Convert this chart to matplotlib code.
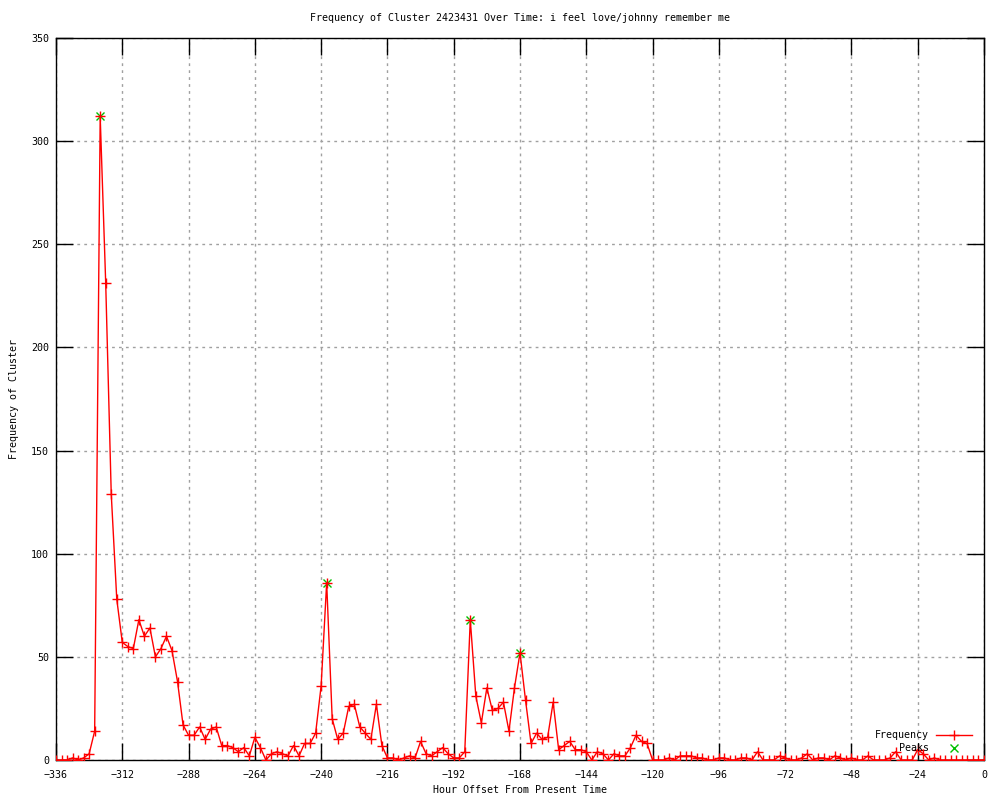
import matplotlib
matplotlib.use("Agg")
import matplotlib.pyplot as plt
import numpy as np

# Часы от -336 до 0 с шагом 2
hours = np.arange(-336, 1, 2)

# Частоты
frequency = [
    0, 0, 0, 1, 0, 1, 3, 14,            # -336 .. -322
    312, 231, 129, 78, 57, 55, 54, 68,  # -320 .. -306
    60, 64, 50, 54, 60, 53, 38, 17,     # -304 .. -290
    12, 12, 16, 10, 15, 16, 7, 7,       # -288 .. -274
    6, 4, 6, 2, 11, 6, 0, 3,            # -272 .. -258
    4, 3, 2, 7, 2, 8, 8, 13,            # -256 .. -242
    36, 86, 20, 10, 13, 26, 27, 16,     # -240 .. -226
    13, 10, 27, 7, 1, 1, 0, 1,          # -224 .. -210
    2, 1, 9, 3, 2, 4, 6, 3,             # -208 .. -194
    1, 1, 4, 68, 31, 18, 35, 24,        # -192 .. -178
    25, 28, 14, 35, 52, 29, 8, 13,      # -176 .. -162
    10, 11, 28, 5, 7, 9, 5, 5,          # -160 .. -146
    4, 0, 4, 3, 0, 3, 2, 2,             # -144 .. -130
    6, 12, 9, 8, 0, 0, 0, 1,            # -128 .. -114
    0, 2, 2, 2, 1, 1, 0, 0,             # -112 .. -98
    1, 1, 0, 0, 1, 1, 0, 4,             # -96 .. -82
    0, 0, 0, 2, 1, 0, 0, 1,             # -80 .. -66
    3, 0, 1, 1, 0, 2, 1, 0,             # -64 .. -50
    1, 0, 0, 2, 0, 0, 0, 1,             # -48 .. -34
    4, 0, 0, 0, 5, 3, 0, 1,             # -32 .. -18
    0, 0, 0, 0, 0, 0, 0, 0, 0,          # -16 .. 0
]

# Пики
peak_hours = [-320, -238, -186, -168]
peak_values = [312, 86, 68, 52]

plt.rcParams["font.family"] = ["DejaVu Sans Mono"]
plt.rcParams["font.size"] = 7.2

fig = plt.figure(figsize=(10, 8), dpi=100)
ax = fig.add_axes([0.056, 0.05, 0.928, 0.9025])

# Пики рисуем под основной линией
ax.plot(peak_hours, peak_values, linestyle="none", marker="x", color="#00c000",
        markersize=6, markeredgewidth=1, label="Peaks", zorder=2)
ax.plot(hours, frequency, color="red", linewidth=1, marker="+", markersize=6.5,
        markeredgewidth=1, label="Frequency", zorder=3)

ax.set_xlim(-336, 0)
ax.set_ylim(0, 350)
ax.set_xticks(np.arange(-336, 1, 24))
ax.set_yticks(np.arange(0, 351, 50))

ax.tick_params(axis="x", direction="in", length=12, width=1, top=True, pad=7)
ax.tick_params(axis="y", direction="in", length=12, width=1, right=True, pad=5)
ax.grid(True, color="#a0a0a0", linestyle=(0, (2, 3)), linewidth=1)
for spine in ax.spines.values():
    spine.set_linewidth(1)

ax.set_title("Frequency of Cluster 2423431 Over Time: i feel love/johnny remember me",
             fontsize=7.2, pad=12)
ax.set_xlabel("Hour Offset From Present Time", labelpad=4)
ax.set_ylabel("Frequency of Cluster", labelpad=9)

handles, labels = ax.get_legend_handles_labels()
ax.legend(handles[::-1], labels[::-1], loc="lower right", bbox_to_anchor=(0.995, 0.0),
          frameon=False, markerfirst=False, handlelength=3.6, labelspacing=0.3,
          handletextpad=0.7, borderpad=0.2)

plt.savefig("out.png", dpi=100)
plt.close()
